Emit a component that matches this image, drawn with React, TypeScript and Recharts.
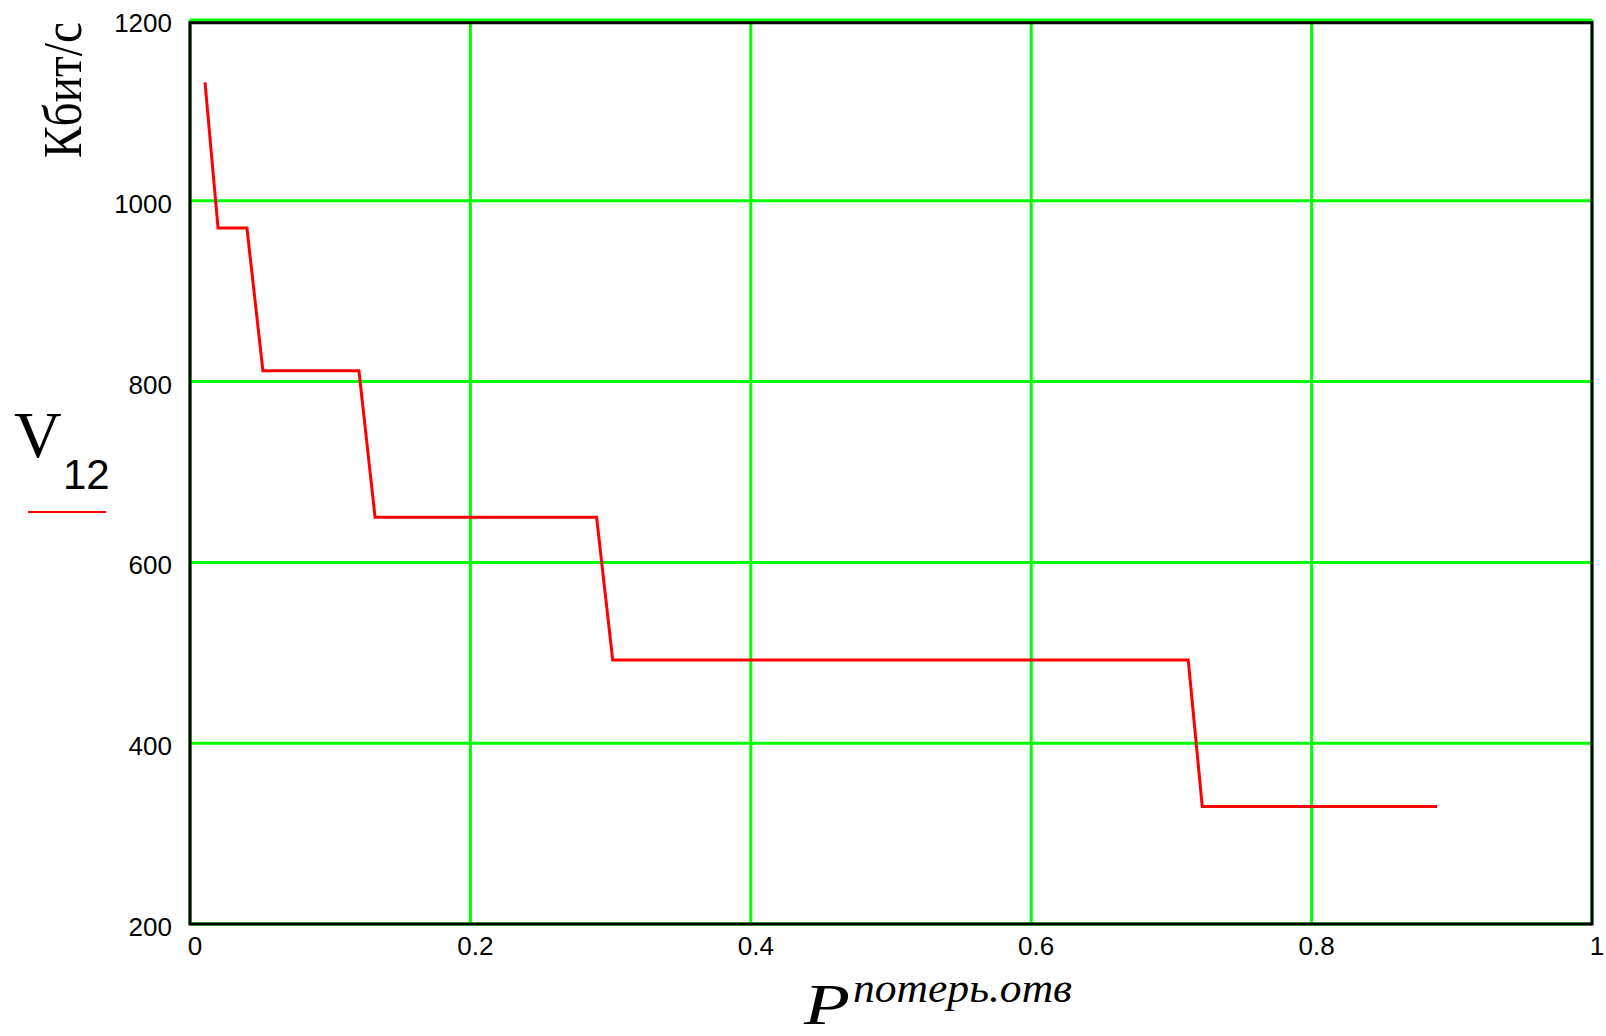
import { LineChart, Line, XAxis, YAxis, CartesianGrid, ReferenceArea } from 'recharts';

// P потерь.отв (loss probability) at the corners of the curve
const pLoss = [0.0107, 0.02, 0.0406, 0.052, 0.1205, 0.132, 0.29, 0.3015, 0.712, 0.722, 0.8895];
// V12, Кбит/с
const v12 = [1131, 970, 970, 812, 812, 650, 650, 492, 492, 330, 330];

const xTicks = [0, 0.2, 0.4, 0.6, 0.8, 1];
const yTicks = [200, 400, 600, 800, 1000, 1200];

const data = pLoss.map((p, i) => ({ p, v: v12[i] }));

const tickFont = { fontFamily: 'Liberation Sans, Arial, sans-serif', fontSize: 26, fill: '#000' };

const XTick = ({ x, y, payload }: any) => (
  <text x={x + 5} y={y + 31} textAnchor="middle" {...tickFont}>
    {String(payload.value)}
  </text>
);

const YTick = ({ x, y, payload }: any) => (
  <text x={x - 18} y={y + 12} textAnchor="end" {...tickFont}>
    {String(payload.value)}
  </text>
);

export default function App() {
  return (
    <div style={{ position: 'absolute', left: 0, top: 0, width: 1606, height: 1036, background: '#fff' }}>
      <LineChart width={1606} height={1036} data={data} margin={{ top: 20, right: 14, bottom: 0, left: 0 }}>
        <CartesianGrid stroke="#00ff00" strokeWidth={3} />
        <XAxis
          dataKey="p"
          type="number"
          domain={[0, 1]}
          ticks={xTicks}
          height={112}
          tickSize={0}
          tickMargin={0}
          axisLine={false}
          tickLine={false}
          tick={XTick}
        />
        <YAxis
          type="number"
          domain={[200, 1200]}
          ticks={yTicks}
          width={190}
          tickSize={0}
          tickMargin={0}
          axisLine={false}
          tickLine={false}
          tick={YTick}
        />
        <ReferenceArea x1={0} x2={1} y1={200} y2={1197} fill="none" stroke="#000" strokeWidth={3} ifOverflow="visible" />
        <Line
          type="linear"
          dataKey="v"
          stroke="#ff0000"
          strokeWidth={3}
          dot={false}
          isAnimationActive={false}
        />
      </LineChart>
      <svg width={1606} height={1036} style={{ position: 'absolute', left: 0, top: 0, pointerEvents: 'none' }}>
        <text
          x={81}
          y={90}
          transform="rotate(-90 81 90)"
          textAnchor="middle"
          fontFamily="Liberation Serif, Times New Roman, serif"
          fontSize={54}
          textLength={136}
          lengthAdjust="spacingAndGlyphs"
          fill="#000"
        >
          Кбит/с
        </text>
        <text x={14} y={457} fontFamily="Liberation Serif, Times New Roman, serif" fontSize={66} fill="#000">
          V
        </text>
        <text x={63} y={489} fontFamily="Liberation Sans, Arial, sans-serif" fontSize={42} fill="#000">
          12
        </text>
        <line x1={28} x2={106} y1={512} y2={512} stroke="#ff0000" strokeWidth={2} />
        <text
          x={804}
          y={1024}
          fontFamily="Liberation Serif, Times New Roman, serif"
          fontStyle="italic"
          fontSize={56}
          textLength={46}
          lengthAdjust="spacingAndGlyphs"
          fill="#000"
        >
          P
        </text>
        <text
          x={853}
          y={1002}
          fontFamily="Liberation Serif, Times New Roman, serif"
          fontStyle="italic"
          fontSize={40}
          textLength={219}
          lengthAdjust="spacingAndGlyphs"
          fill="#000"
        >
          потерь.отв
        </text>
      </svg>
    </div>
  );
}
